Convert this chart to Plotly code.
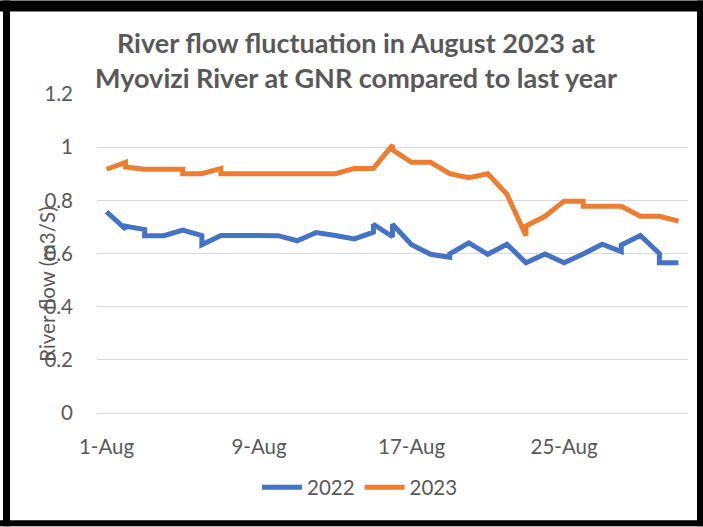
import plotly.graph_objects as go

# ---- data ----
dates_2022 = [
    "2023-08-01", "2023-08-02", "2023-08-02", "2023-08-03", "2023-08-03",
    "2023-08-04", "2023-08-05", "2023-08-06", "2023-08-06", "2023-08-07",
    "2023-08-08", "2023-08-09", "2023-08-10", "2023-08-11", "2023-08-12",
    "2023-08-13", "2023-08-14", "2023-08-15", "2023-08-15", "2023-08-16",
    "2023-08-16", "2023-08-17", "2023-08-18", "2023-08-19", "2023-08-19",
    "2023-08-20", "2023-08-21", "2023-08-22", "2023-08-23", "2023-08-24",
    "2023-08-25", "2023-08-26", "2023-08-27", "2023-08-28", "2023-08-28",
    "2023-08-29", "2023-08-30", "2023-08-30", "2023-08-31",
]
flow_2022 = [
    0.757, 0.692, 0.703, 0.690, 0.667,
    0.667, 0.688, 0.667, 0.633, 0.668,
    0.668, 0.668, 0.667, 0.648, 0.679,
    0.668, 0.655, 0.680, 0.710, 0.663,
    0.710, 0.633, 0.597, 0.586, 0.598,
    0.640, 0.597, 0.635, 0.565, 0.598,
    0.565, 0.598, 0.635, 0.607, 0.632,
    0.668, 0.600, 0.565, 0.565,
]

dates_2023 = [
    "2023-08-01", "2023-08-02", "2023-08-02", "2023-08-03", "2023-08-04",
    "2023-08-05", "2023-08-05", "2023-08-06", "2023-08-07", "2023-08-07",
    "2023-08-08", "2023-08-09", "2023-08-10", "2023-08-11", "2023-08-12",
    "2023-08-13", "2023-08-14", "2023-08-15", "2023-08-16", "2023-08-16",
    "2023-08-17", "2023-08-18", "2023-08-19", "2023-08-20", "2023-08-21",
    "2023-08-22", "2023-08-23", "2023-08-23", "2023-08-24", "2023-08-25",
    "2023-08-26", "2023-08-26", "2023-08-27", "2023-08-28", "2023-08-29",
    "2023-08-30", "2023-08-31",
]
flow_2023 = [
    0.917, 0.943, 0.925, 0.917, 0.917,
    0.917, 0.900, 0.900, 0.920, 0.900,
    0.900, 0.900, 0.900, 0.900, 0.900,
    0.900, 0.920, 0.920, 1.008, 0.990,
    0.943, 0.943, 0.900, 0.885, 0.900,
    0.823, 0.667, 0.703, 0.740, 0.797,
    0.797, 0.778, 0.778, 0.778, 0.740,
    0.740, 0.722,
]

tick_dates = ["2023-08-01", "2023-08-09", "2023-08-17", "2023-08-25"]
tick_labels = ["1-Aug", "9-Aug", "17-Aug", "25-Aug"]
series_names = ["2022", "2023"]

# ---- figure ----
W, H = 703, 527
L, R, T, B = 97, 688, 93.7, 413.5   # plot area in pixels
FONT = "Lato, Calibri, Carlito, sans-serif"
GREY = "#595959"
TICK = 20.5


def px(x):
    return (x - L) / (R - L)


def py(y):
    return (B - y) / (B - T)


fig = go.Figure()
fig.add_trace(go.Scatter(x=dates_2022, y=flow_2022, mode="lines", name=series_names[0],
                         line=dict(color="#4472C4", width=5)))
fig.add_trace(go.Scatter(x=dates_2023, y=flow_2023, mode="lines", name=series_names[1],
                         line=dict(color="#ED7D31", width=5)))

fig.update_layout(
    width=W, height=H,
    margin=dict(l=L, r=W - R, t=T, b=H - B, pad=0),
    paper_bgcolor="white", plot_bgcolor="white",
    font=dict(family=FONT, size=TICK, color=GREY),
    title=dict(
        text="<b>River flow fluctuation in August 2023 at<br>Myovizi River at GNR compared to last year</b>",
        x=356 / W, xanchor="center", xref="container",
        y=1 - 53 / H, yanchor="top", yref="container",
        font=dict(family=FONT, size=27, color=GREY),
    ),
    showlegend=True,
    legend=dict(orientation="h", x=px(360), xanchor="center", y=py(488), yanchor="middle",
                font=dict(family=FONT, size=TICK, color=GREY), itemwidth=40,
                bgcolor="rgba(0,0,0,0)"),
    xaxis=dict(
        type="date", range=["2023-07-31 12:00", "2023-08-31 12:00"],
        tickvals=tick_dates, ticktext=tick_labels,
        showgrid=False, zeroline=False, showline=False, ticks="",
        ticklabelstandoff=19, tickfont=dict(size=TICK, color=GREY),
    ),
    yaxis=dict(
        range=[0, 1.2], dtick=0.2, tick0=0,
        showgrid=True, gridcolor="#d9d9d9", gridwidth=1.4,
        zeroline=True, zerolinecolor="#d9d9d9", zerolinewidth=1.4,
        showline=False, ticks="", ticklabelstandoff=23,
        tickfont=dict(size=TICK, color=GREY),
    ),
    annotations=[dict(
        text="River flow (m3/S)", textangle=-90,
        xref="paper", yref="paper", x=px(47), y=py(285),
        xanchor="center", yanchor="middle", showarrow=False,
        font=dict(family=FONT, size=TICK, color=GREY),
    )],
    shapes=[
        dict(type="rect", xref="paper", yref="paper", x0=px(0), x1=px(W), y0=py(0), y1=py(11),
             fillcolor="black", line_width=0, layer="above"),
        dict(type="rect", xref="paper", yref="paper", x0=px(3), x1=px(10), y0=py(0), y1=py(H),
             fillcolor="black", line_width=0, layer="above"),
        dict(type="rect", xref="paper", yref="paper", x0=px(697), x1=px(W), y0=py(0), y1=py(H),
             fillcolor="black", line_width=0, layer="above"),
        dict(type="rect", xref="paper", yref="paper", x0=px(0), x1=px(W), y0=py(521), y1=py(H),
             fillcolor="black", line_width=0, layer="above"),
    ],
)

fig.write_html("out.html", config={"displayModeBar": False})

# remove the browser's default page margin so the figure sits at (0, 0)
with open("out.html", encoding="utf-8") as f:
    html = f.read()
html = html.replace("<head>", "<head><style>html,body{margin:0;padding:0;overflow:hidden;}</style>", 1)
with open("out.html", "w", encoding="utf-8") as f:
    f.write(html)
